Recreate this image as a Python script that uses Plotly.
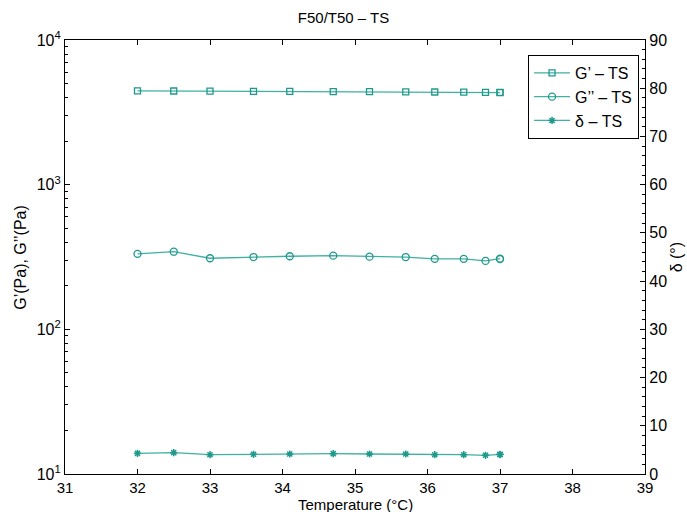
import plotly.graph_objects as go

# Temperature sweep, F50/T50 sample
temperature = [32.0, 32.5, 33.0, 33.6, 34.1, 34.7, 35.2, 35.7, 36.1, 36.5, 36.8, 37.0, 37.0]
g_storage = [4450, 4440, 4430, 4420, 4410, 4400, 4390, 4380, 4370, 4360, 4350, 4340, 4330]
g_loss = [332, 344, 310, 316, 320, 323, 318, 316, 307, 307, 297, 306, 308]
delta_deg = [4.29, 4.42, 4.00, 4.09, 4.15, 4.21, 4.15, 4.15, 4.00, 4.00, 3.88, 4.03, 4.09]

x_ticks = [31, 32, 33, 34, 35, 36, 37, 38, 39]
y_log_ticks = [10, 100, 1000, 10000]
y_log_labels = ["10<sup>1</sup>", "10<sup>2</sup>", "10<sup>3</sup>", "10<sup>4</sup>"]
y_log_minor = [m * 10 ** k for k in (1, 2, 3) for m in range(2, 10)]

LINE = "#3fb0a3"
MARK = "#1f998c"
FONT = "Liberation Sans, Arial, sans-serif"

fig = go.Figure()
fig.add_trace(go.Scatter(
    x=temperature, y=g_storage, name="G’ – TS", mode="lines+markers",
    line=dict(color=LINE, width=1.3),
    marker=dict(symbol="square-open", size=6, color=MARK, line=dict(width=1.3)),
))
fig.add_trace(go.Scatter(
    x=temperature, y=g_loss, name="G’’ – TS", mode="lines+markers",
    line=dict(color=LINE, width=1.3),
    marker=dict(symbol="circle-open", size=7, color=MARK, line=dict(width=1.3)),
))
fig.add_trace(go.Scatter(
    x=temperature, y=delta_deg, name="δ – TS", mode="lines+markers", yaxis="y2",
    line=dict(color=LINE, width=1.3),
    marker=dict(symbol="asterisk-open", size=6, color=MARK, line=dict(width=1.5)),
))

axis_common = dict(
    showline=True, linecolor="black", linewidth=1.2,
    ticks="inside", tickcolor="black", ticklen=5,
    showgrid=False, zeroline=False, automargin=False,
    tickfont=dict(family=FONT, size=16, color="black"),
)

title_font = dict(family=FONT, size=16, color="black")

fig.update_layout(
    width=687, height=512,
    margin=dict(l=65, r=42, t=40, b=38),
    paper_bgcolor="white", plot_bgcolor="white",
    font=dict(family=FONT, color="black"),
    title=dict(text="F50/T50 – TS", x=0.5, xanchor="center", y=0.975, yanchor="top",
               font=dict(family=FONT, size=15, color="black")),
    xaxis=dict(range=[31, 39], tickvals=x_ticks, mirror="ticks", **axis_common),
    yaxis=dict(
        type="log", range=[1, 4], tickvals=y_log_ticks, ticktext=y_log_labels,
        minor=dict(tickvals=y_log_minor, ticks="inside", ticklen=3, tickcolor="black"),
        **axis_common,
    ),
    yaxis2=dict(
        overlaying="y", side="right", range=[0, 90], dtick=10,
        minor=dict(dtick=2, ticks="inside", ticklen=3, tickcolor="black"),
        **axis_common,
    ),
    legend=dict(
        x=0.798, y=0.966, xanchor="left", yanchor="top",
        bgcolor="white", bordercolor="black", borderwidth=1.2,
        font=dict(family=FONT, size=16, color="black"),
        tracegroupgap=0, itemwidth=36,
    ),
    annotations=[
        dict(text="Temperature (°C)", xref="paper", yref="paper", x=0.5, y=-0.071,
             xanchor="center", yanchor="middle", showarrow=False,
             font=dict(family=FONT, size=15, color="black")),
        dict(text="G’(Pa), G’’(Pa)", xref="paper", yref="paper", x=-0.078, y=0.5,
             xanchor="center", yanchor="middle", textangle=-90, showarrow=False,
             font=title_font),
        dict(text="δ (°)", xref="paper", yref="paper", x=1.054, y=0.5,
             xanchor="center", yanchor="middle", textangle=-90, showarrow=False,
             font=title_font),
    ],
)
fig.update_xaxes(tickfont_size=15)

fig.write_html("out.html")
